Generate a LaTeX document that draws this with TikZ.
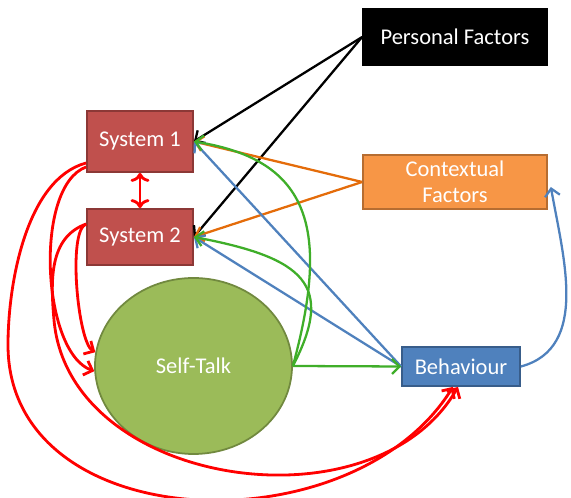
\documentclass[tikz,border=0pt]{standalone}
\usepackage{fontspec}
\setmainfont{Carlito}
\usepackage{xcolor}
\usetikzlibrary{shapes,arrows,positioning,calc,arrows.meta}

\definecolor{sysred}{HTML}{C0504D}
\definecolor{sysredline}{HTML}{8C3836}
\definecolor{ctxorange}{HTML}{F79646}
\definecolor{ctxorangeline}{HTML}{B66D31}
\definecolor{behblue}{HTML}{4F81BD}
\definecolor{behblueline}{HTML}{385D8A}
\definecolor{talkgreen}{HTML}{9BBB59}
\definecolor{talkgreenline}{HTML}{71893F}
\definecolor{linkorange}{HTML}{E46C0A}
\definecolor{linkgreen}{HTML}{3FAE29}

\tikzset{
  box/.style={rectangle, draw, line width=1pt, text=white, align=center,
    font=\fontsize{12.8}{15}\selectfont, inner sep=0pt},
  link/.style={line width=1.3pt, -{Straight Barb[length=1.5mm,width=3mm]}},
  redlink/.style={link, red, line width=1.6pt}
}

\begin{document}
\begin{tikzpicture}
        \useasboundingbox (0,0) rectangle (11.42,9.96);

        % Boxes
        \node[box, fill=black, draw=black, minimum width=3.68cm, minimum height=1.12cm] (pers) at (9.10,9.22) {Personal Factors};
        \node[box, fill=ctxorange, draw=ctxorangeline, minimum width=3.68cm, minimum height=1.08cm] (ctx) at (9.10,6.32) {Contextual\\Factors};
        \node[box, fill=sysred, draw=sysredline, minimum width=2.12cm, minimum height=1.22cm] (sys1) at (2.80,7.13) {System 1};
        \node[box, fill=sysred, draw=sysredline, minimum width=2.12cm, minimum height=1.12cm] (sys2) at (2.80,5.22) {System 2};
        \node[box, fill=behblue, draw=behblueline, minimum width=2.36cm, minimum height=0.78cm] (beh) at (9.22,2.63) {Behaviour};
        \node[box, ellipse, fill=talkgreen, draw=talkgreenline, minimum width=3.94cm, minimum height=3.52cm] (talk) at (3.87,2.64) {Self-Talk};

        % Personal and contextual factors
        \draw[link, black] (pers.west) -- (sys1.east);
        \draw[link, black] (pers.west) -- (sys2.east);
        \draw[link, linkorange] (ctx.west) -- (sys1.east);
        \draw[link, linkorange] (ctx.west) -- (sys2.east);

        % Behaviour feedback
        \draw[link, behblue] (beh.west) -- (sys1.east);
        \draw[link, behblue] (beh.west) -- (sys2.east);
        \draw[link, behblue] (beh.east) to[out=15,in=-80] ([xshift=0.06cm,yshift=-0.1cm]ctx.east);

        % Self-talk
        \draw[link, linkgreen] (talk.east) -- (beh.west);
        \draw[link, linkgreen] (talk.east) .. controls (6.60,5.36) and (6.22,6.76) .. (sys1.east);
        \draw[link, linkgreen] (talk.east) .. controls (6.70,4.26) and (6.10,4.80) .. (sys2.east);

        % Systems
        \coordinate (bendA) at (0.16,3.06);
        \coordinate (bendB) at (1.08,3.56);
        \draw[redlink, <->] (sys1.south) -- (sys2.north);
        \draw[redlink] ([yshift=-0.51cm]sys1.west) to[out=200,in=160,looseness=0.7] (talk.183);
        \draw[redlink] ([yshift=0.26cm]sys2.west) to[out=200,in=150,looseness=0.4] (talk.172);
        \draw[redlink] ([yshift=-0.43cm]sys1.west) to[out=195,in=90,looseness=0.8] (bendA)
              to[out=-90,in=-122,looseness=1.1] ([xshift=-0.16cm]beh.south);
        \draw[redlink] ([yshift=0.26cm]sys2.west) to[out=200,in=95] (bendB)
              to[out=-85,in=-120,looseness=1.05] ([xshift=-0.06cm]beh.south);
    \end{tikzpicture}
\end{document}
